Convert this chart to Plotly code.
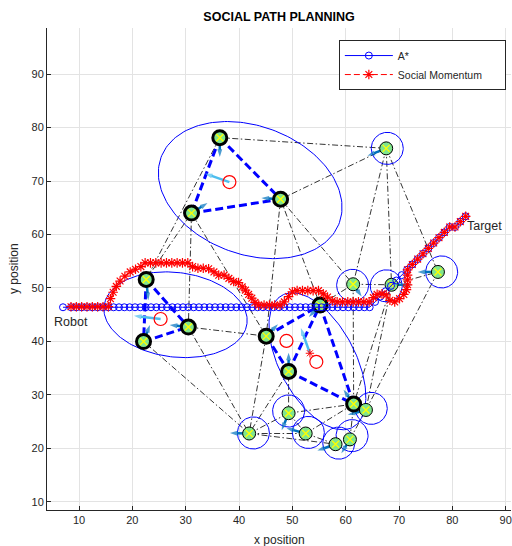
import numpy as np
import plotly.graph_objects as go

# ---------------- data ----------------
# pedestrians (0-9 belong to groups, 10-19 single walkers)
ped_x = [36.4, 31.1, 47.8, 22.6, 22.1, 30.5, 45.1, 49.3, 55.2, 61.5,
         67.6, 61.4, 68.6, 77.3, 41.9, 49.3, 52.5, 58.1, 60.8, 63.8]
ped_y = [78.1, 64.0, 66.6, 51.6, 40.0, 42.7, 41.0, 34.4, 46.8, 28.3,
         76.1, 50.7, 50.6, 53.0, 22.8, 26.6, 22.8, 20.8, 21.7, 27.2]
ped_vx = [0.0, 3.0, -3.6, 0.4, 1.2, -3.5, 2.2, 0.0, -2.1, -1.9,
          -3.5, 1.6, 3.8, -3.8, -3.6, -1.3, -3.6, -3.4, -1.6, -3.4]
ped_vy = [-3.6, 1.9, 0.2, -3.9, 3.1, 0.4, 2.2, 3.5, -2.2, 2.7,
          -1.4, -2.3, 0.0, 0.0, 0.1, -3.2, 1.0, -1.2, -2.6, -0.9]
in_group = [1, 1, 1, 1, 1, 1, 1, 1, 1, 1, 0, 0, 0, 0, 0, 0, 0, 0, 0, 0]

# group edges (thick dashed blue)
group_edges = [(0, 1), (0, 2), (1, 2), (3, 4), (3, 5), (4, 5),
               (6, 8), (6, 7), (7, 8), (7, 9), (8, 9)]
# interaction graph edges (thin dash-dot black)
graph_edges = [(0, 10), (2, 10), (0, 3), (1, 3), (1, 5), (1, 6), (2, 6), (2, 8),
               (2, 11), (10, 11), (10, 12), (10, 13), (11, 12), (12, 13), (8, 11),
               (11, 9), (12, 9), (12, 19), (13, 19), (5, 6), (4, 14), (5, 14),
               (6, 14), (7, 14), (7, 15), (14, 15), (14, 16), (14, 17), (15, 9),
               (15, 16), (16, 9), (16, 17), (17, 18), (18, 9), (18, 19), (9, 19)]

# personal space circles of single walkers
circ_x = [67.8, 61.3, 67.6, 78.0, 42.7, 49.3, 53.0, 58.7, 61.2, 64.8]
circ_y = [76.1, 50.5, 50.4, 53.0, 22.9, 27.0, 23.0, 21.0, 22.4, 27.5]
circ_r = 3.0

# group space ellipses
ell_cx = [42.1, 28.1, 54.7]
ell_cy = [68.3, 45.0, 36.3]
ell_a = [17.8, 13.5, 14.0]
ell_b = [12.0, 7.9, 7.1]
ell_ang = [-20, -7, -62]

# group centres (red circles) and social-force arrows
gc_x = [38.2, 25.3, 48.9, 54.5]
gc_y = [69.8, 44.2, 40.1, 36.2]
star_x = [53.3]
star_y = [37.8]
sf_x = [38.2, 25.3, 53.3]
sf_y = [69.8, 44.2, 37.8]
sf_u = [-4.6, -5.0, -1.7]
sf_v = [1.6, 0.6, 4.7]

# A* path
astar_x = [7.0, 8.5, 9.5, 10.5, 11.5, 12.5, 13.5, 14.5, 15.5, 16.5, 17.5, 18.5, 19.5,
           20.5, 21.5, 22.5, 23.5, 24.5, 25.5, 26.5, 27.5, 28.5, 29.5, 30.5, 31.5,
           32.5, 33.5, 34.5, 35.5, 36.5, 37.5, 38.5, 39.5, 40.5, 41.5, 42.5, 43.5,
           44.5, 45.5, 46.5, 47.5, 48.5, 49.5, 50.5, 51.5, 52.5, 53.5, 54.5, 55.5,
           56.5, 57.5, 58.5, 59.5, 60.5, 61.5, 62.5, 63.5, 64.5,
           65.5, 66.5, 67.5, 68.5, 69.5, 70.5, 71.5, 72.5, 73.5, 74.5, 75.5, 76.5,
           77.5, 78.5, 79.5, 80.5, 81.5, 82.5]
astar_y = [46.4, 46.4, 46.4, 46.4, 46.4, 46.4, 46.4, 46.4, 46.4, 46.4, 46.4, 46.4, 46.4,
           46.4, 46.4, 46.4, 46.4, 46.4, 46.4, 46.4, 46.4, 46.4, 46.4, 46.4, 46.4,
           46.4, 46.4, 46.4, 46.4, 46.4, 46.4, 46.4, 46.4, 46.4, 46.4, 46.4, 46.4,
           46.4, 46.4, 46.4, 46.4, 46.4, 46.4, 46.4, 46.4, 46.4, 46.4, 46.4, 46.4,
           46.4, 46.4, 46.4, 46.4, 46.4, 46.4, 46.4, 46.4, 46.4,
           47.4, 48.4, 49.4, 50.4, 51.4, 52.4, 53.4, 54.4, 55.4, 56.4, 57.4, 58.4,
           59.4, 60.4, 61.4, 61.4, 62.4, 63.4]

# Social Momentum path
sm_x = [8.5, 9.5, 10.5, 11.5, 12.5, 13.5, 14.5, 15.5, 15.9, 16.4, 17.0, 17.7, 18.6,
        19.6, 20.6, 21.6, 22.4, 23.4, 24.4, 25.4, 26.4, 27.4, 28.4, 29.4, 30.4,
        31.3, 32.3, 33.3, 34.3, 35.3, 36.2, 37.2, 38.1, 39.0, 39.9, 40.6, 41.2,
        41.8, 42.4, 43.0, 43.7, 44.7, 45.7, 46.7, 47.7, 48.5, 49.3, 50.0, 50.9,
        51.9, 52.9, 53.9, 54.9, 55.8, 56.6, 57.5, 58.4, 59.4, 60.4, 61.4, 62.4,
        63.4, 64.4, 65.2, 65.9, 66.8, 67.6, 68.3, 69.2, 70.1, 70.9, 71.4, 71.6,
        71.6, 71.6, 71.6, 72.5, 73.5, 74.5, 75.5, 76.5, 77.5, 78.5, 79.5, 80.5,
        81.5, 82.5]
sm_y = [46.5, 46.5, 46.5, 46.5, 46.5, 46.5, 46.5, 46.5, 48.0, 49.2, 50.3, 51.3, 52.2,
        53.0, 53.5, 54.0, 54.7, 54.7, 54.7, 54.7, 54.7, 54.7, 54.7, 54.7, 54.7,
        54.0, 53.7, 53.7, 53.6, 53.0, 52.4, 52.4, 51.8, 51.2, 51.0, 50.2, 49.6,
        48.8, 48.1, 47.3, 46.8, 46.8, 46.8, 46.8, 46.8, 47.4, 48.4, 49.3, 49.5,
        49.5, 49.5, 49.5, 49.5, 48.9, 48.3, 47.6, 47.4, 47.4, 47.4, 47.4, 47.4,
        47.4, 47.4, 48.2, 48.8, 48.9, 48.7, 47.7, 47.4, 48.0, 48.8, 49.7, 50.6,
        51.5, 52.4, 53.4, 54.4, 55.4, 56.4, 57.4, 58.4, 59.4, 60.4, 61.4, 61.4,
        62.4, 63.4]

robot_label = ("Robot", 4.9, 43.6)
target_label = ("Target", 82.3, 61.6)

x_ticks = [10, 20, 30, 40, 50, 60, 70, 80, 90]
y_ticks = [10, 20, 30, 40, 50, 60, 70, 80, 90]

# ---------------- figure ----------------
fig = go.Figure()
FONT = "Liberation Sans, Arial, Helvetica, sans-serif"
NB = "\u00a0"


def seg_xy(pairs):
    xs, ys = [], []
    for i, j in pairs:
        xs += [ped_x[i], ped_x[j], None]
        ys += [ped_y[i], ped_y[j], None]
    return xs, ys


# graph edges
gx, gy = seg_xy(graph_edges)
fig.add_trace(go.Scatter(x=gx, y=gy, mode="lines", showlegend=False, hoverinfo="skip",
                         line=dict(color="black", width=0.8, dash="6px,2.5px,1.5px,2.5px")))

# ellipses and circles
t = np.linspace(0, 2 * np.pi, 181)
ex, ey = [], []
for cx, cy, a, b, ang in zip(ell_cx, ell_cy, ell_a, ell_b, ell_ang):
    th = np.deg2rad(ang)
    xs = cx + a * np.cos(t) * np.cos(th) - b * np.sin(t) * np.sin(th)
    ys = cy + a * np.cos(t) * np.sin(th) + b * np.sin(t) * np.cos(th)
    ex += list(xs) + [None]
    ey += list(ys) + [None]
for cx, cy in zip(circ_x, circ_y):
    ex += list(cx + circ_r * np.cos(t)) + [None]
    ey += list(cy + circ_r * np.sin(t)) + [None]
fig.add_trace(go.Scatter(x=ex, y=ey, mode="lines", showlegend=False, hoverinfo="skip",
                         line=dict(color="blue", width=1)))

# group edges
bx, by = seg_xy(group_edges)
fig.add_trace(go.Scatter(x=bx, y=by, mode="lines", showlegend=False, hoverinfo="skip",
                         line=dict(color="blue", width=3, dash="8px,4px")))


def arrows(x0, y0, u, v, color, width, head):
    xs, ys, sz = [], [], []
    for a, b, du, dv in zip(x0, y0, u, v):
        xs += [a, a + du, None]
        ys += [b, b + dv, None]
        sz += [0, head, 0]
    return go.Scatter(x=xs, y=ys, mode="lines+markers", showlegend=False, hoverinfo="skip",
                      line=dict(color=color, width=width),
                      marker=dict(symbol="arrow", angleref="previous", size=sz, color=color,
                                  line=dict(width=0)))


# social force arrows (light blue) and red group centres
fig.add_trace(arrows(sf_x, sf_y, sf_u, sf_v, "#4DBEEE", 2.5, 8))
fig.add_trace(go.Scatter(x=gc_x, y=gc_y, mode="markers", showlegend=False, hoverinfo="skip",
                         marker=dict(symbol="circle-open", size=13, color="red",
                                     line=dict(width=1.2, color="red"))))
fig.add_trace(go.Scatter(x=star_x, y=star_y, mode="markers", showlegend=False, hoverinfo="skip",
                         marker=dict(symbol="asterisk-open", size=7, color="red",
                                     line=dict(width=1, color="red"))))

# velocity arrows
fig.add_trace(arrows(ped_x, ped_y, ped_vx, ped_vy, "#0072BD", 2.5, 8))

# pedestrians
gxs = [x for x, g in zip(ped_x, in_group) if g]
gys = [y for y, g in zip(ped_y, in_group) if g]
sxs = [x for x, g in zip(ped_x, in_group) if not g]
sys_ = [y for y, g in zip(ped_y, in_group) if not g]
fig.add_trace(go.Scatter(x=gxs, y=gys, mode="markers", showlegend=False, hoverinfo="skip",
                         marker=dict(symbol="circle", size=14, color="#80E68C",
                                     line=dict(width=3, color="black"))))
fig.add_trace(go.Scatter(x=sxs, y=sys_, mode="markers", showlegend=False, hoverinfo="skip",
                         marker=dict(symbol="circle", size=13, color="#80E68C",
                                     line=dict(width=1, color="black"))))
fig.add_trace(go.Scatter(x=ped_x, y=ped_y, mode="markers", showlegend=False, hoverinfo="skip",
                         marker=dict(symbol="x-thin-open", size=7, color="yellow",
                                     line=dict(width=1.3, color="yellow"))))

# paths
fig.add_trace(go.Scatter(x=astar_x, y=astar_y, mode="lines+markers", name="A*",
                         line=dict(color="blue", width=1),
                         marker=dict(symbol="circle-open", size=7, color="blue",
                                     line=dict(width=1, color="blue"))))
fig.add_trace(go.Scatter(x=sm_x, y=sm_y, mode="lines+markers",
                         name="Social Momentum" + NB * 6,
                         line=dict(color="red", width=1, dash="6px,3px"),
                         marker=dict(symbol="asterisk-open", size=8, color="red",
                                     line=dict(width=1.2, color="red"))))

for txt, tx, ty in (robot_label, target_label):
    fig.add_annotation(x=tx, y=ty, text=txt, showarrow=False, xanchor="left", yanchor="middle",
                       font=dict(family=FONT, size=12.5, color="#262626"))

fig.add_annotation(xref="paper", yref="paper", x=0.5, y=-0.062, text="x position",
                   showarrow=False, xanchor="center", yanchor="middle",
                   font=dict(family=FONT, size=12, color="#262626"))
fig.add_annotation(xref="paper", yref="paper", x=-0.071, y=0.5, text="y position",
                   showarrow=False, xanchor="center", yanchor="middle", textangle=-90,
                   font=dict(family=FONT, size=12, color="#262626"))

axis_common = dict(showgrid=True, gridcolor="#e3e3e3", gridwidth=1, zeroline=False,
                   showline=True, linecolor="#262626", linewidth=1, mirror=False,
                   ticks="inside", ticklen=4, tickcolor="#262626",
                   tickfont=dict(family=FONT, size=11, color="#262626"))
fig.update_xaxes(range=[4, 91], tickvals=x_ticks, **axis_common)
fig.update_yaxes(range=[8.5, 98.6], tickvals=y_ticks, **axis_common)

fig.update_layout(
    width=512, height=546,
    margin=dict(l=47, r=1, t=28, b=36),
    plot_bgcolor="white", paper_bgcolor="white",
    title=dict(text="<b>SOCIAL PATH PLANNING</b>", x=0.545, xanchor="center",
               y=1 - 17 / 546, yanchor="middle",
               font=dict(family=FONT, size=12.5, color="black")),
    legend=dict(x=0.629, y=0.975, xanchor="left", yanchor="top",
                bgcolor="white", bordercolor="#262626", borderwidth=1,
                itemwidth=48, tracegroupgap=0,
                font=dict(family=FONT, size=10.5, color="#262626")),
)

fig.write_html("out.html")
